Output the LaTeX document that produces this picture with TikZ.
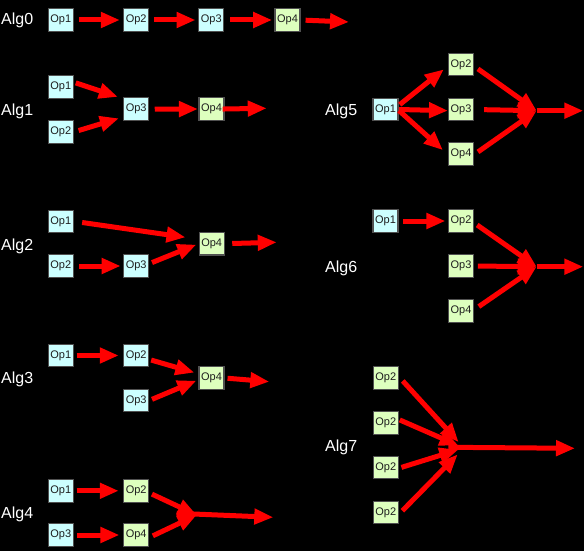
\documentclass[tikz,border=0pt]{standalone}
\usepackage{fontspec}
\setmainfont{Liberation Sans}
\usetikzlibrary{arrows.meta}
\definecolor{opcyan}{RGB}{204,255,255}
\definecolor{opgreen}{RGB}{221,255,190}
\definecolor{boxborder}{RGB}{80,80,80}
\definecolor{optext}{RGB}{30,30,30}
\tikzset{
  op/.style={draw=boxborder, line width=1.1pt, minimum width=25pt, minimum height=22.5pt, inner sep=0pt, font=\fontsize{11}{13}\selectfont, text=optext},
  opc/.style={op, fill=opcyan},
  opg/.style={op, fill=opgreen},
  arr/.style={draw=red, line width=5pt, -{Triangle[length=19pt,width=15pt]}},
  alg/.style={text=white, font=\fontsize{16}{19}\selectfont, anchor=base west, inner sep=0pt},
}
\begin{document}
\begin{tikzpicture}[x=1pt,y=-1pt]
\fill[black] (0,0) rectangle (584,551);
\useasboundingbox (0,0) rectangle (584,551);

% labels
\node[alg] (l0) at (1,25) {Alg0};
\node[alg] (l1) at (1,115) {Alg1};
\node[alg] (l2) at (1,250) {Alg2};
\node[alg] (l3) at (1,383) {Alg3};
\node[alg] (l4) at (1,518) {Alg4};
\node[alg] (l5) at (325,115) {Alg5};
\node[alg] (l6) at (325,272) {Alg6};
\node[alg] (l7) at (325,451) {Alg7};

% Alg0
\node[opc] (a0o1) at (60.8,20) {Op1};
\node[opc] (a0o2) at (136.2,20) {Op2};
\node[opc] (a0o3) at (211.3,20) {Op3};
\node[opg] (a0o4) at (287.5,20) {Op4};
\coordinate (e0) at (349,22);
\draw[arr, shorten <=5pt, shorten >=3.3pt] (a0o1.east) -- (a0o2.west);
\draw[arr, shorten <=5pt, shorten >=2.7pt] (a0o2.east) -- (a0o3.west);
\draw[arr, shorten <=6pt, shorten >=2.3pt] (a0o3.east) -- (a0o4.west);
\draw[arr, shorten <=5pt] (a0o4.east) -- (e0);

% Alg1
\node[opc] (a1o1) at (60.8,87) {Op1};
\node[opc] (a1o2) at (60.8,132) {Op2};
\node[opc] (a1o3) at (136.2,109.2) {Op3};
\node[opg] (a1o4) at (211.5,109) {Op4};
\coordinate (e1) at (266.7,108.3);
\draw[arr, shorten <=2pt, shorten >=5.6pt] (a1o1.20) -- (a1o3.141);
\draw[arr, shorten <=5pt, shorten >=4.4pt] (a1o2.east) -- (a1o3.211);
\draw[arr, shorten <=5.5pt, shorten >=0.5pt] (a1o3.east) -- (a1o4.west);
\draw[arr, shorten <=-2pt] (a1o4.east) -- (e1);

% Alg2
\node[opc] (a2o1) at (60.8,221.3) {Op1};
\node[opc] (a2o2) at (60.8,266) {Op2};
\node[opc] (a2o3) at (136.2,266) {Op3};
\node[opg] (a2o4) at (211.7,243.7) {Op4};
\coordinate (e2) at (276.7,242.3);
\draw[arr, shorten <=8.4pt, shorten >=13.3pt] (a2o1.east) -- (a2o4.161);
\draw[arr, shorten <=5.5pt, shorten >=2.5pt] (a2o2.east) -- (a2o3.west);
\draw[arr, shorten <=3pt, shorten >=2.5pt] (a2o3.10) -- (a2o4.west);
\draw[arr, shorten <=7.5pt] (a2o4.east) -- (e2);

% Alg3
\node[opc] (a3o1) at (60.8,355.5) {Op1};
\node[opc] (a3o2) at (136.2,355.5) {Op2};
\node[opc] (a3o3) at (136.2,400.5) {Op3};
\node[opg] (a3o4) at (211.5,378) {Op4};
\coordinate (e3) at (269.3,381.7);
\draw[arr, shorten <=2.7pt, shorten >=4.4pt] (a3o1.east) -- (a3o2.west);
\draw[arr, shorten <=2pt, shorten >=4.2pt] (a3o2.-17) -- (a3o4.162);
\draw[arr, shorten <=3pt, shorten >=2.3pt] (a3o3.east) -- (a3o4.188);
\draw[arr, shorten <=3pt] (a3o4.east) -- (e3);

% Alg4
\node[opc] (a4o1) at (60.8,490.8) {Op1};
\node[opg] (a4o2) at (136.2,490.8) {Op2};
\node[opc] (a4o3) at (60.8,535) {Op3};
\node[opg] (a4o4) at (136.2,535) {Op4};
\coordinate (m4) at (196.7,515);
\coordinate (s4) at (176.7,513.3);
\coordinate (e4) at (273.3,517.3);
\draw[arr, shorten <=2.7pt, shorten >=4.4pt] (a4o1.east) -- (a4o2.west);
\draw[arr, shorten <=3.4pt, shorten >=3.7pt] (a4o3.east) -- (a4o4.west);
\draw[arr, shorten <=3pt] (a4o2.-9) -- (m4);
\draw[arr, shorten <=4pt] (a4o4.-11) -- (m4);
\draw[arr] (s4) -- (e4);

% Alg5
\node[opc] (a5o1) at (385.5,109.5) {Op1};
\node[opg] (a5o2) at (461,64.5) {Op2};
\node[opg] (a5o3) at (461,109.5) {Op3};
\node[opg] (a5o4) at (461,154) {Op4};
\coordinate (m5) at (536.7,110.7);
\coordinate (e5) at (583.3,110.7);
\draw[arr, shorten <=1.5pt, shorten >=5.2pt] (a5o1.17) -- (a5o2.187);
\draw[arr, shorten <=0.3pt, shorten >=0pt] (a5o1.east) -- (a5o3.185);
\draw[arr, shorten <=0.5pt, shorten >=6.8pt] (a5o1.-3) -- (a5o4.183);
\draw[arr, shorten <=4.8pt] (a5o2.-7) -- (m5);
\draw[arr, shorten <=10pt] (a5o3.east) -- (m5);
\draw[arr, shorten <=4.8pt] (a5o4.-3) -- (m5);
\draw[arr] (m5) -- (e5);

% Alg6
\node[opc] (a6o1) at (385.5,221) {Op1};
\node[opg] (a6o2) at (461,221) {Op2};
\node[opg] (a6o3) at (461,266) {Op3};
\node[opg] (a6o4) at (461,311) {Op4};
\coordinate (m6) at (536.7,266.7);
\coordinate (e6) at (583.3,266.7);
\draw[arr, shorten <=4.7pt, shorten >=2.5pt] (a6o1.east) -- (a6o2.west);
\draw[arr, shorten <=3.8pt] (a6o2.-8) -- (m6);
\draw[arr, shorten <=3.8pt] (a6o3.east) -- (m6);
\draw[arr, shorten <=5.8pt] (a6o4.5) -- (m6);
\draw[arr] (m6) -- (e6);

% Alg7
\node[opg] (a7b1) at (385.8,378) {Op2};
\node[opg] (a7b2) at (385.8,422.8) {Op2};
\node[opg] (a7b3) at (385.8,467.5) {Op2};
\node[opg] (a7b4) at (385.8,512.5) {Op2};
\coordinate (m7) at (464,448);
\coordinate (s7) at (448.3,447.3);
\coordinate (e7) at (575,448.3);
\draw[arr, shorten <=5.8pt, shorten >=8pt] (a7b1.6) -- (m7);
\draw[arr, shorten <=1pt, shorten >=6pt] (a7b2.14) -- (m7);
\draw[arr, shorten <=2.7pt, shorten >=6pt] (a7b3.-3) -- (m7);
\draw[arr, shorten <=5pt, shorten >=9pt] (a7b4.-8) -- (m7);
\draw[arr] (s7) -- (e7);
\end{tikzpicture}
\end{document}
